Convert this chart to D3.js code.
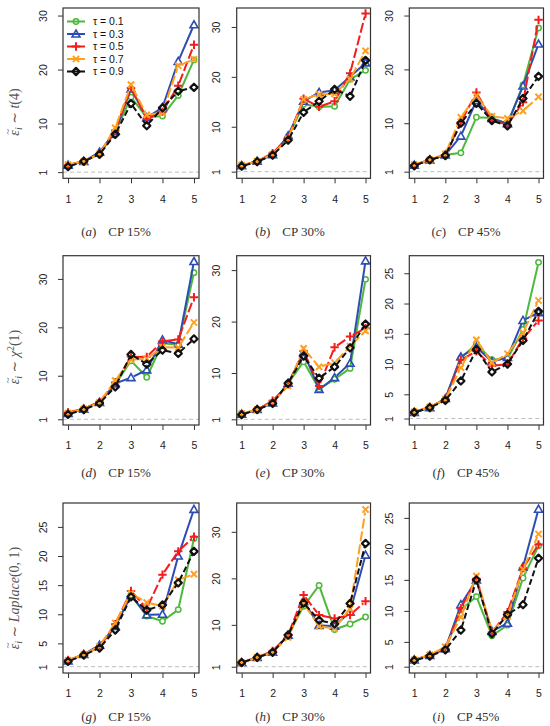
<!DOCTYPE html>
<html>
<head>
<meta charset="utf-8">
<script src="https://cdn.jsdelivr.net/npm/d3@7"></script>
<style>
  body { margin: 0; background: #fff; }
  svg { display: block; }
</style>
</head>
<body>
<svg id="chart" width="550" height="726"></svg>
<script>
// x positions of the points, ticks on the axis
var xValues = [1, 1.5, 2, 2.5, 3, 3.5, 4, 4.5, 5];
var xTicks = [1, 2, 3, 4, 5];
var ticksTens = [1, 10, 20, 30];
var ticksFives = [1, 5, 10, 15, 20, 25];
var tauLabels = ["τ = 0.1", "τ = 0.3", "τ = 0.5", "τ = 0.7", "τ = 0.9"];
var captionLetters = ["a", "b", "c", "d", "e", "f", "g", "h", "i"];
var captionCP = ["CP 15%", "CP 30%", "CP 45%"];

// each panel: one row per tau (0.1, 0.3, 0.5, 0.7, 0.9)
// row 1 : t(4)
var panelA = [
  [2.3, 3.0, 4.4, 8.4, 14.9, 11.1, 11.4, 15.2, 21.8],
  [2.3, 3.0, 4.7, 8.6, 16.4, 11.1, 13.0, 21.5, 28.3],
  [2.3, 3.0, 4.4, 8.7, 16.6, 10.9, 12.2, 17.0, 24.6],
  [2.4, 3.0, 4.4, 9.2, 17.2, 11.6, 12.0, 20.7, 21.9],
  [2.0, 3.0, 4.3, 8.0, 13.7, 9.6, 12.9, 16.0, 16.7]
];
var panelB = [
  [2.2, 3.1, 4.4, 8.0, 14.5, 14.0, 14.1, 19.5, 21.3],
  [2.2, 3.1, 4.4, 8.2, 15.1, 16.9, 17.3, 20.0, 22.8],
  [2.2, 3.1, 4.7, 7.8, 15.6, 14.0, 15.1, 20.7, 32.7],
  [2.3, 3.1, 4.5, 7.6, 15.5, 16.5, 16.6, 19.6, 25.2],
  [2.1, 3.0, 4.3, 7.3, 12.9, 15.1, 17.5, 16.1, 23.3]
];
var panelC = [
  [2.2, 3.2, 4.1, 4.5, 11.1, 11.0, 9.9, 17.1, 27.7],
  [2.2, 3.2, 4.1, 7.6, 14.2, 10.9, 9.9, 16.9, 24.7],
  [2.2, 3.2, 4.1, 10.2, 15.7, 10.6, 9.7, 13.9, 29.2],
  [2.3, 3.2, 4.3, 11.1, 15.1, 11.3, 10.9, 12.3, 14.9],
  [2.1, 3.2, 4.0, 10.0, 13.7, 10.5, 9.5, 14.6, 18.7]
];
// row 2 : chi^2(1)
var panelD = [
  [2.2, 3.1, 4.5, 8.2, 13.1, 9.7, 16.7, 16.4, 31.3],
  [2.2, 3.1, 4.5, 8.4, 9.6, 11.2, 17.4, 16.5, 33.6],
  [2.4, 3.2, 4.6, 8.6, 13.9, 13.9, 17.1, 17.5, 26.2],
  [2.3, 3.1, 4.5, 9.0, 13.3, 13.5, 15.9, 15.8, 21.0],
  [2.0, 3.0, 4.3, 7.7, 14.4, 12.4, 15.3, 14.6, 17.6]
];
var panelE = [
  [2.0, 2.9, 4.2, 8.0, 12.2, 6.9, 8.8, 10.9, 28.2],
  [2.0, 2.9, 4.2, 8.0, 14.0, 6.8, 9.1, 11.9, 31.8],
  [2.0, 2.9, 4.6, 7.8, 14.3, 7.5, 15.0, 17.1, 18.7],
  [2.1, 2.9, 4.3, 7.5, 14.8, 11.2, 12.0, 15.2, 18.2],
  [1.9, 2.9, 4.1, 8.0, 13.3, 9.0, 11.2, 14.9, 19.5]
];
var panelF = [
  [2.0, 2.8, 4.2, 11.0, 13.3, 10.7, 10.9, 15.7, 26.8],
  [2.0, 2.8, 4.3, 11.2, 12.8, 10.4, 11.1, 17.2, 18.5],
  [2.1, 2.9, 4.2, 10.7, 12.1, 9.7, 10.0, 14.2, 17.2],
  [2.1, 2.9, 4.2, 9.4, 14.0, 10.2, 11.7, 15.2, 20.5],
  [2.0, 2.8, 4.0, 7.2, 12.4, 8.7, 10.0, 13.9, 18.7]
];
// row 3 : Laplace(0,1)
var panelG = [
  [2.0, 3.1, 4.4, 8.0, 13.3, 9.7, 8.8, 10.8, 23.0],
  [2.0, 3.1, 4.7, 7.9, 13.2, 9.9, 10.0, 20.0, 28.0],
  [2.1, 3.1, 4.4, 8.3, 14.0, 11.0, 16.8, 20.8, 23.3],
  [2.1, 3.1, 4.5, 8.5, 13.6, 12.0, 11.4, 15.9, 16.9],
  [1.9, 3.0, 4.2, 7.3, 13.0, 10.7, 11.6, 15.4, 20.8]
];
var panelH = [
  [1.9, 3.0, 4.1, 7.8, 14.0, 18.5, 9.0, 10.2, 11.7],
  [1.9, 3.0, 4.1, 7.8, 15.0, 9.9, 9.7, 12.8, 25.0],
  [1.9, 3.0, 4.4, 7.8, 16.4, 12.1, 11.4, 12.1, 15.1],
  [1.9, 3.0, 4.1, 7.3, 14.6, 9.7, 9.2, 13.5, 34.8],
  [1.9, 3.0, 4.1, 7.8, 14.7, 11.0, 10.2, 14.6, 27.5]
];
var panelI = [
  [2.1, 2.8, 3.8, 10.2, 12.3, 6.0, 7.7, 15.3, 20.5],
  [2.1, 2.8, 3.9, 11.0, 15.0, 6.7, 8.0, 17.1, 26.4],
  [2.1, 2.9, 3.9, 10.4, 15.2, 6.5, 9.8, 16.9, 20.7],
  [2.1, 2.9, 4.2, 9.0, 15.6, 6.8, 9.1, 16.7, 22.4],
  [2.0, 2.7, 3.7, 6.9, 15.0, 6.3, 9.4, 11.0, 18.5]
];

// layout
var colBox = [[63, 199], [236.7, 370.5], [409.3, 543.5]];
var rowBox = [[8, 178.3], [255.7, 425], [503, 673]];
var captionX = [116, 290, 466];
var captionY = [236, 477, 721];
var titleY = [112, 357, 598];

var colors = ["#4cb93a", "#2c4db5", "#f41c1c", "#ffa01e", "#111111"];
var dashes = [null, null, "10,3", "10,3", "6,3"];
var shapes = ["circle", "triangle", "plus", "cross", "diamond"];

var panels = [
  { data: panelA, yDom: [-0.14, 31.4], ticks: ticksTens },
  { data: panelB, yDom: [-0.33, 33.8], ticks: ticksTens },
  { data: panelC, yDom: [-0.23, 31.4], ticks: ticksTens },
  { data: panelD, yDom: [-0.18, 34.8], ticks: ticksTens },
  { data: panelE, yDom: [-0.10, 32.8], ticks: ticksTens },
  { data: panelF, yDom: [-0.07, 27.9], ticks: ticksFives },
  { data: panelG, yDom: [-0.08, 29.1], ticks: ticksFives },
  { data: panelH, yDom: [-0.35, 36.2], ticks: ticksTens },
  { data: panelI, yDom: [-0.02, 27.4], ticks: ticksFives }
];

var svg = d3.select("#chart");
var serif = "'Liberation Serif', 'DejaVu Serif', serif";
var sans = "'Liberation Sans', Arial, sans-serif";

// draw one marker (R pch style)
function marker(g, shape, cx, cy, col) {
	if (shape == "circle") {
		g.append("circle").attr("cx", cx).attr("cy", cy).attr("r", 2.7)
			.attr("fill", "none").attr("stroke", col).attr("stroke-width", 1.5);
	} else if (shape == "triangle") {
		var s = 4;
		g.append("path")
			.attr("d", "M" + cx + "," + (cy - s) + "L" + (cx + s) + "," + (cy + s * 0.75) + "L" + (cx - s) + "," + (cy + s * 0.75) + "Z")
			.attr("fill", "none").attr("stroke", col).attr("stroke-width", 1.6);
	} else if (shape == "plus") {
		var p = 4.2;
		g.append("path")
			.attr("d", "M" + (cx - p) + "," + cy + "H" + (cx + p) + "M" + cx + "," + (cy - p) + "V" + (cy + p))
			.attr("stroke", col).attr("stroke-width", 2);
	} else if (shape == "cross") {
		var c = 3.1;
		g.append("path")
			.attr("d", "M" + (cx - c) + "," + (cy - c) + "L" + (cx + c) + "," + (cy + c) + "M" + (cx - c) + "," + (cy + c) + "L" + (cx + c) + "," + (cy - c))
			.attr("stroke", col).attr("stroke-width", 2);
	} else {
		var d = 3.6;
		g.append("path")
			.attr("d", "M" + cx + "," + (cy - d) + "L" + (cx + d) + "," + cy + "L" + cx + "," + (cy + d) + "L" + (cx - d) + "," + cy + "Z")
			.attr("fill", "none").attr("stroke", col).attr("stroke-width", 2.2)
			.attr("stroke-linejoin", "round");
	}
}

panels.forEach(function(p, k) {
	var col = k % 3, row = Math.floor(k / 3);
	var x0 = colBox[col][0], x1 = colBox[col][1];
	var y0 = rowBox[row][0], y1 = rowBox[row][1];

	var x = d3.scaleLinear().domain([0.84, 5.16]).range([x0, x1]);
	var y = d3.scaleLinear().domain(p.yDom).range([y1, y0]);

	var g = svg.append("g");

	// reference line at 1
	g.append("line")
		.attr("x1", x0).attr("x2", x1).attr("y1", y(1)).attr("y2", y(1))
		.attr("stroke", "#bdbdbd").attr("stroke-width", 1).attr("stroke-dasharray", "4,3");

	// series: lines (type "b", gap at the points), then markers
	p.data.forEach(function(vals, s) {
		var pts = vals.map(function(v, i) { return [x(xValues[i]), y(v)]; });
		var gap = 3;
		for (var i = 0; i < pts.length - 1; i++) {
			var dx = pts[i + 1][0] - pts[i][0], dy = pts[i + 1][1] - pts[i][1];
			var len = Math.sqrt(dx * dx + dy * dy);
			if (len <= 2 * gap) continue;
			var ux = dx / len, uy = dy / len;
			g.append("line")
				.attr("x1", pts[i][0] + ux * gap).attr("y1", pts[i][1] + uy * gap)
				.attr("x2", pts[i + 1][0] - ux * gap).attr("y2", pts[i + 1][1] - uy * gap)
				.attr("stroke", colors[s]).attr("stroke-width", 2)
				.attr("stroke-dasharray", dashes[s]);
		}
		pts.forEach(function(pt) { marker(g, shapes[s], pt[0], pt[1], colors[s]); });
	});

	// axes
	var xAxis = g.append("g").attr("transform", "translate(0," + y1 + ")")
		.call(d3.axisBottom(x).tickValues(xTicks).tickSize(5).tickPadding(12).tickFormat(d3.format("d")));
	var yAxis = g.append("g").attr("transform", "translate(" + x0 + ",0)")
		.call(d3.axisLeft(y).tickValues(p.ticks).tickSize(5).tickFormat(d3.format("d")));
	[xAxis, yAxis].forEach(function(a) {
		a.select(".domain").remove();
		a.selectAll("line").attr("stroke", "#333");
		a.selectAll("text").attr("fill", "#222")
			.style("font-family", sans).style("font-size", "10.5px");
	});
	yAxis.selectAll("text")
		.attr("x", null).attr("dy", null).attr("text-anchor", "middle")
		.attr("transform", "translate(-16.5,0) rotate(-90)");

	// box
	g.append("rect")
		.attr("x", x0).attr("y", y0).attr("width", x1 - x0).attr("height", y1 - y0)
		.attr("fill", "none").attr("stroke", "#333").attr("stroke-width", 1.2);

	// caption
	var cap = svg.append("text")
		.attr("x", captionX[col]).attr("y", captionY[row]).attr("text-anchor", "middle")
		.style("font-family", serif).style("font-size", "13px")
		.attr("fill", "#333");
	cap.append("tspan").text("(");
	cap.append("tspan").style("font-style", "italic").text(captionLetters[k]);
	cap.append("tspan").text(")");
	cap.append("tspan").attr("dx", 12).text(captionCP[col]);
});

// y titles, one per row (tilde drawn on its own above the epsilon)
function yTitle(row, build) {
	var tg = svg.append("g")
		.attr("transform", "translate(19," + titleY[row] + ") rotate(-90)")
		.style("font-family", serif).attr("fill", "#555");
	var t = tg.append("text").attr("x", 0).attr("y", 0).style("font-size", "14px");
	t.append("tspan").style("font-style", "italic").text("ε");
	t.append("tspan").style("font-style", "italic").style("font-size", "10px").attr("dy", 3).text("i");
	t.append("tspan").attr("dy", -3).text(" ∼ ");
	build(t);
	var len = t.node().getComputedTextLength();
	var epsW = t.node().getSubStringLength(0, 1);
	var start = -len / 2;
	t.attr("x", start);
	tg.append("text")
		.attr("x", start + epsW / 2 + 1).attr("y", -8.5)
		.attr("text-anchor", "middle").style("font-size", "11px")
		.text("~");
}
yTitle(0, function(t) {
	t.append("tspan").style("font-style", "italic").text("t");
	t.append("tspan").text("(4)");
});
yTitle(1, function(t) {
	t.append("tspan").style("font-style", "italic").text("χ");
	t.append("tspan").style("font-size", "10px").attr("dy", -5).text("2");
	t.append("tspan").attr("dy", 5).text("(1)");
});
yTitle(2, function(t) {
	t.append("tspan").style("font-style", "italic").text("Laplace");
	t.append("tspan").text("(0, 1)");
});

// legend inside panel (a)
var leg = svg.append("g");
tauLabels.forEach(function(lab, s) {
	var ly = 21.5 + s * 12.5;
	leg.append("line").attr("x1", 67).attr("x2", 85).attr("y1", ly).attr("y2", ly)
		.attr("stroke", colors[s]).attr("stroke-width", 2);
	marker(leg, shapes[s], 76, ly, colors[s]);
	leg.append("text").attr("x", 93).attr("y", ly).attr("dy", "0.35em")
		.style("font-family", sans).style("font-size", "10.5px")
		.attr("fill", "#111").text(lab);
});
</script>
</body>
</html>
